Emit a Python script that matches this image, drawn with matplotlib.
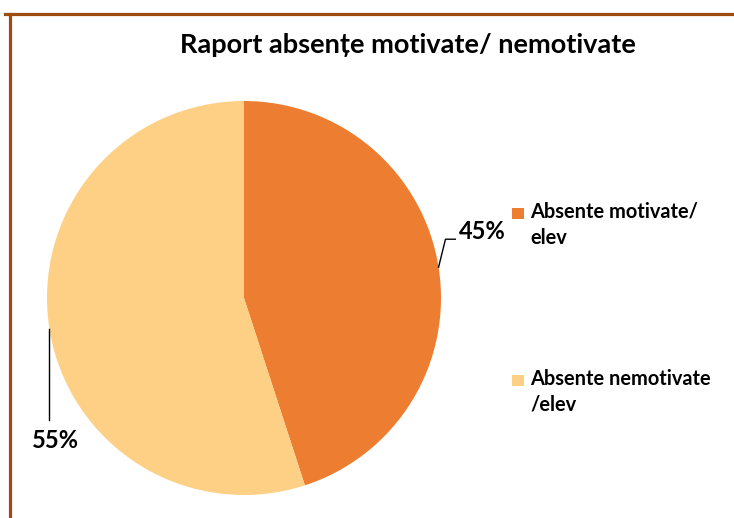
import matplotlib.pyplot as plt
from matplotlib.lines import Line2D
from matplotlib.patches import Rectangle
import numpy as np

plt.rcParams['font.family'] = ['Lato', 'DejaVu Sans']

title = 'Raport absențe motivate/ nemotivate'
categories = ['Absente motivate/\nelev', 'Absente nemotivate\n/elev']
values = [45, 55]
colors = ['#ED7D31', '#FDD086']

W, H = 734, 518
fig = plt.figure(figsize=(W / 100, H / 100), dpi=100)

# pie axes: centre (244, 298) px, radius 197 px
cx, cy, r = 244, 298, 197
ax = fig.add_axes([(cx - r) / W, (H - cy - r) / H, 2 * r / W, 2 * r / H])
wedges, _ = ax.pie(values, colors=colors, startangle=90, counterclock=False, radius=1)
ax.set_xlim(-1, 1)
ax.set_ylim(-1, 1)
ax.set_aspect('equal')
ax.axis('off')

# leader lines and labels
for w, v in zip(wedges, values):
    mid = np.deg2rad((w.theta1 + w.theta2) / 2)
    ex, ey = np.cos(mid), np.sin(mid)
    lbl = f'{v}%'
    if ex > 0:
        elbow = (ex + 0.035, ey + 0.142)
        end = (elbow[0] + 0.05, elbow[1])
        ax.plot([ex, elbow[0], end[0]], [ey, elbow[1], end[1]], color='black', lw=1, clip_on=False)
        ax.text(end[0] + 0.02, end[1] + 0.04, lbl, ha='left', va='center',
                fontsize=17, fontweight='bold', clip_on=False)
    else:
        end = (ex, -0.62)
        ax.plot([ex, end[0]], [ey, end[1]], color='black', lw=1, clip_on=False)
        ax.text(ex + 0.03, end[1] - 0.105, lbl, ha='center', va='center',
                fontsize=17, fontweight='bold', clip_on=False)

fig.text(408 / W, 1 - 45 / H, title, ha='center', va='center',
         fontsize=19.5, fontweight='bold')

# legend drawn by hand so the swatch sits on the first text line
leg_y = [213, 380]
for w, lab, y in zip(wedges, categories, leg_y):
    fig.add_artist(Rectangle((512 / W, 1 - (y + 5.5) / H), 12 / W, 11 / H,
                             facecolor=w.get_facecolor(), edgecolor='none',
                             transform=fig.transFigure))
    fig.text(530 / W, 1 - (y - 11) / H, lab, ha='left', va='top',
             fontsize=14.4, fontweight='bold', linespacing=1.35)

# brown frame (top and left only)
fig.add_artist(Line2D([5 / W, 1], [1 - 14 / H, 1 - 14 / H], color='#9E4B0F', lw=2.3))
fig.add_artist(Line2D([10 / W, 10 / W], [0, 1 - 14 / H], color='#9E4B0F', lw=2.3))

fig.savefig('out.png', dpi=100)
